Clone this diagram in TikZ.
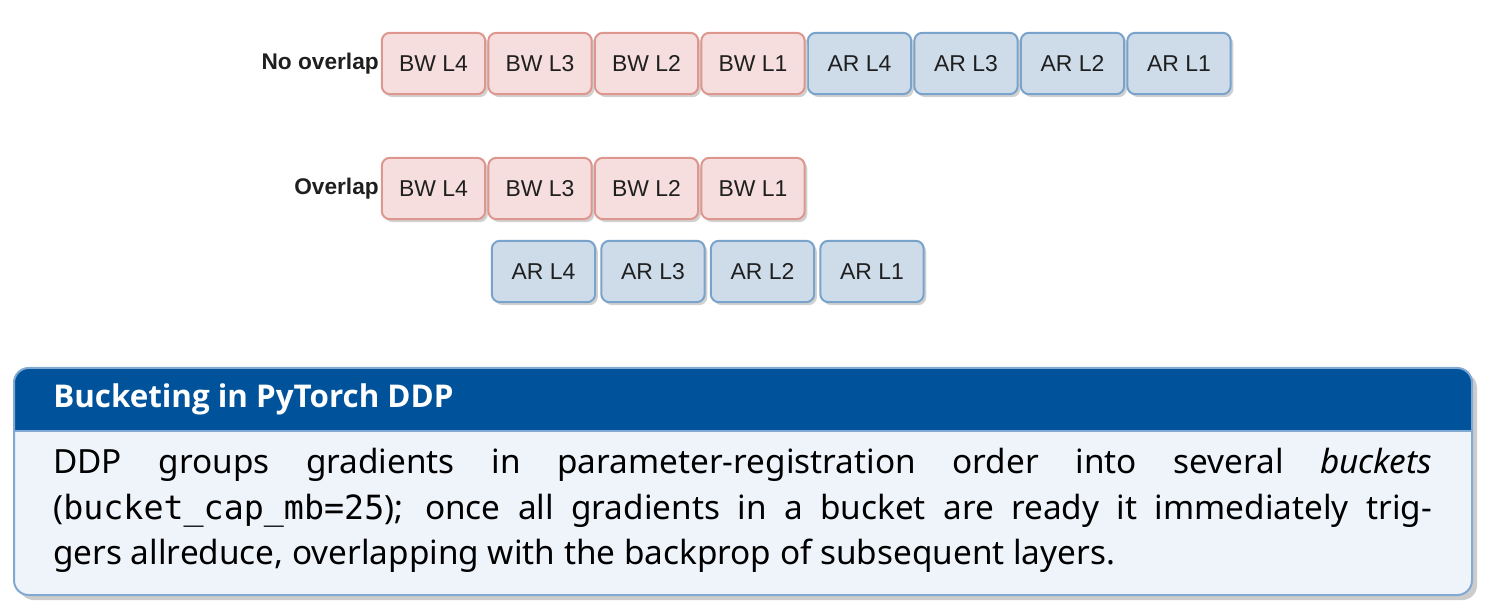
\documentclass[tikz,border=0pt]{standalone}
\usepackage{fontspec}
\setmainfont{Liberation Sans}
\newfontfamily\notefont{Noto Sans}
\newfontfamily\titlefont{Open Sans}
\setmonofont{DejaVu Sans Mono}
\usetikzlibrary{shadows}

\definecolor{bwfill}{HTML}{F5DEDD}
\definecolor{bwline}{HTML}{DE978E}
\definecolor{arfill}{HTML}{CEDCEA}
\definecolor{arline}{HTML}{7AA3CB}
\definecolor{headblue}{HTML}{00539B}
\definecolor{notefill}{HTML}{EFF3FA}
\definecolor{noteline}{HTML}{82A9D2}

\tikzset{
    layerbox/.style={rounded corners=6pt, line width=1.5pt, minimum width=77.5pt,
        minimum height=46pt, inner sep=0pt, font=\fontsize{17.2}{20}\selectfont,
        text=black!88, drop shadow={shadow xshift=2pt, shadow yshift=-2.2pt, fill=black!18, opacity=1}},
    bwbox/.style={layerbox, draw=bwline, fill=bwfill},
    arbox/.style={layerbox, draw=arline, fill=arfill},
    rowlabel/.style={anchor=east, inner sep=0pt, text=black!88, font=\fontsize{17}{20}\selectfont\bfseries},
}

\begin{document}
\begin{tikzpicture}[x=0.75pt, y=-0.75pt]
    \useasboundingbox (0,0) rectangle (1496,605);

    % no overlap: all backward first, then all allreduce
    \node[rowlabel] (noovl) at (379,63.5) {No overlap};
    \foreach \l [count=\i from 0] in {4,3,2,1} {
        \node[bwbox] (seqbw\l) at (433.5+106.5*\i,63.5) {BW L\l};
        \node[arbox] (seqar\l) at (859.5+106.5*\i,63.5) {AR L\l};
    }

    % overlap: allreduce runs under the backward pass
    \node[rowlabel] (ovl) at (379,188.5) {Overlap};
    \foreach \l [count=\i from 0] in {4,3,2,1} {
        \node[bwbox] (ovlbw\l) at (433.5+106.5*\i,188.5) {BW L\l};
        \node[arbox] (ovlar\l) at (543.5+109.5*\i,271.5) {AR L\l};
    }

    % note box
    \fill[black!20, rounded corners=11pt] (19,373) rectangle (1477,600);
    \fill[notefill, rounded corners=11pt] (14,368) rectangle (1472,595);
    \begin{scope}
        \clip (0,0) rectangle (1496,431);
        \fill[headblue, rounded corners=11pt] (14,368) rectangle (1472,595);
    \end{scope}
    \draw[noteline, line width=1.2pt] (14,431) -- (1472,431);
    \draw[noteline, line width=1.5pt, rounded corners=11pt] (14,368) rectangle (1472,595);

    \node[anchor=base west, inner sep=0pt, text=white,
        font=\titlefont\fontsize{23.5}{28}\selectfont\bfseries] (notetitle) at (53,408)
        {Bucketing in PyTorch DDP};
    \node[anchor=north west, inner sep=0pt, text width=1034pt, align=justify,
        font=\notefont\fontsize{25}{34.2}\selectfont] (notetext) at (53,448)
        {\tolerance=10000 DDP groups gradients in parameter-registration order into several \emph{buckets}\linebreak
        (\texttt{bucket\_cap\_mb=25}); once all gradients in a bucket are ready it immediately trig-\linebreak
        gers allreduce, overlapping with the backprop of subsequent layers.};
\end{tikzpicture}
\end{document}
